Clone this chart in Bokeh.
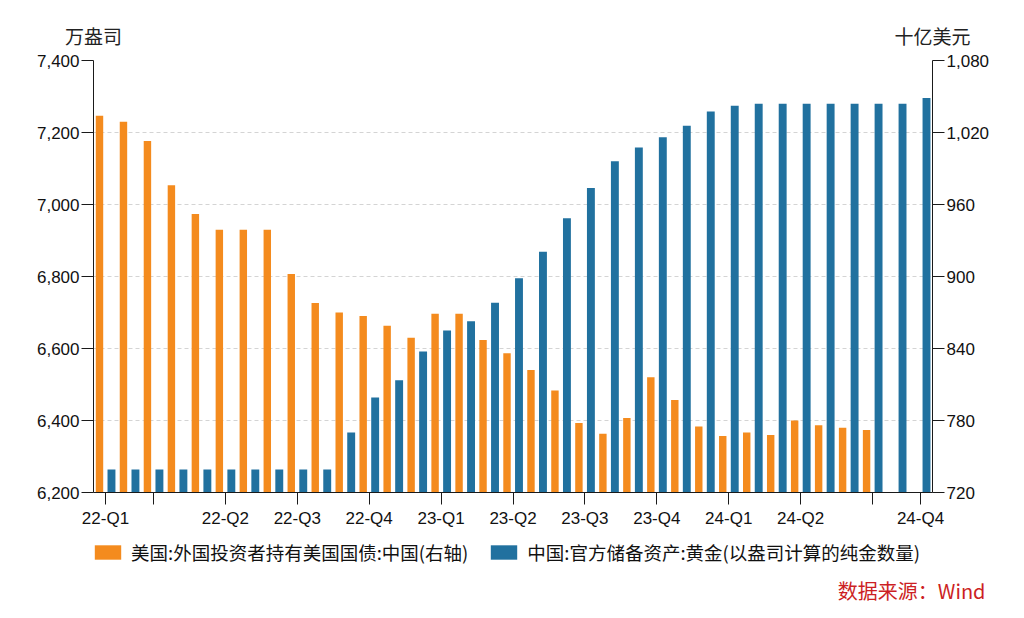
from bokeh.plotting import figure
from bokeh.layouts import column
from bokeh.models import (Range1d, LinearAxis, FixedTicker, NumeralTickFormatter,
                          Legend, LegendItem, ColumnDataSource)
from bokeh.core.properties import value
from bokeh.transform import dodge
from bokeh.embed import file_html
from bokeh.resources import INLINE

# ---------------- data ----------------
months = ["2022-01", "2022-02", "2022-03", "2022-04", "2022-05", "2022-06",
          "2022-07", "2022-08", "2022-09", "2022-10", "2022-11", "2022-12",
          "2023-01", "2023-02", "2023-03", "2023-04", "2023-05", "2023-06",
          "2023-07", "2023-08", "2023-09", "2023-10", "2023-11", "2023-12",
          "2024-01", "2024-02", "2024-03", "2024-04", "2024-05", "2024-06",
          "2024-07", "2024-08", "2024-09", "2024-10", "2024-11"]

# 美国:外国投资者持有美国国债:中国 (十亿美元, right axis)
us_treasury_china = [1034, 1029, 1013, 976, 952, 939, 939, 939, 902, 878,
                     870, 867, 859, 849, 869, 869, 847, 836, 822, 805,
                     778, 769, 782, 816, 797, 775, 767, 770, 768, 780,
                     776, 774, 772]

# 中国:官方储备资产:黄金 (万盎司, left axis)
china_gold = [6264, 6264, 6264, 6264, 6264, 6264, 6264, 6264, 6264, 6264,
              6367, 6464, 6512, 6592, 6650, 6676, 6727, 6795, 6869, 6962,
              7046, 7120, 7158, 7187, 7219, 7258, 7274, 7280, 7280, 7280,
              7280, 7280, 7280, 7280, 7296]

tick_positions = [0, 2, 5, 8, 11, 14, 17, 20, 23, 26, 29, 32, 34]
tick_labels = ["22-Q1", "", "22-Q2", "22-Q3", "22-Q4", "23-Q1", "23-Q2",
               "23-Q3", "23-Q4", "24-Q1", "24-Q2", "", "24-Q4"]

left_ticks = [6200, 6400, 6600, 6800, 7000, 7200, 7400]
right_ticks = [720, 780, 840, 900, 960, 1020, 1080]

left_unit = "万盎司"
right_unit = "十亿美元"
label_orange = "美国:外国投资者持有美国国债:中国(右轴)"
label_blue = "中国:官方储备资产:黄金(以盎司计算的纯金数量)"
source_note = "数据来源：Wind"

# ---------------- styles / layout ----------------
ORANGE = "#F48B1E"
BLUE = "#21719F"
AXIS = "#1a1a1a"
NUM_FONT = "Liberation Sans"
CJK_FONT = "Noto Sans CJK SC"
W = 1008
FL, FW, FH = 93, 839, 432          # frame left, width, height
TOP_H, BOT_H = 50, 80               # header / footer strips
MAIN_TOP, MAIN_BOT = 10, 40


def blank(height):
    f = figure(width=W, height=height, output_backend="svg",
               toolbar_location=None, x_range=Range1d(0, W),
               y_range=Range1d(0, height), x_axis_type=None,
               y_axis_type=None, min_border=0, frame_align=False)
    f.outline_line_color = None
    f.background_fill_color = "white"
    f.border_fill_color = "white"
    return f


# ---- header: unit labels above both value axes ----
head = blank(TOP_H)
head.text(x=[FL, FL + FW], y=[15, 15], text=[left_unit, right_unit],
          text_align="center", text_baseline="middle",
          text_font=value(CJK_FONT), text_font_size="19px",
          text_color="#222222")

# ---- main chart ----
src_o = ColumnDataSource(dict(x=list(range(len(us_treasury_china))),
                              v=us_treasury_china))
src_b = ColumnDataSource(dict(x=list(range(len(china_gold))), v=china_gold))

n = len(months)
p = figure(width=W, height=MAIN_TOP + FH + MAIN_BOT, output_backend="svg",
           toolbar_location=None,
           x_range=Range1d(-0.5, n - 0.5),
           y_range=Range1d(left_ticks[0], left_ticks[-1]),
           min_border_left=FL, min_border_right=W - FL - FW,
           min_border_top=MAIN_TOP, min_border_bottom=MAIN_BOT,
           frame_align=False)
p.outline_line_color = None
p.background_fill_color = "white"
p.border_fill_color = "white"

p.extra_y_ranges = {"r": Range1d(right_ticks[0], right_ticks[-1])}

p.vbar(x=dodge("x", -0.25, range=p.x_range), top="v",
       bottom=right_ticks[0], width=0.31, source=src_o,
       fill_color=ORANGE, line_color=None, y_range_name="r")
p.vbar(x=dodge("x", 0.25, range=p.x_range), top="v",
       bottom=left_ticks[0], width=0.33, source=src_b,
       fill_color=BLUE, line_color=None)

yl = p.yaxis[0]
yl.ticker = FixedTicker(ticks=left_ticks)
yl.formatter = NumeralTickFormatter(format="0,0")
ra = LinearAxis(y_range_name="r", ticker=FixedTicker(ticks=right_ticks),
                formatter=NumeralTickFormatter(format="0,0"))
p.add_layout(ra, "right")

for ax in (yl, ra):
    ax.major_tick_out = 12
    ax.major_tick_in = 0
    ax.minor_tick_line_color = None
    ax.major_label_standoff = 2
    ax.axis_line_color = AXIS
    ax.major_tick_line_color = AXIS
    ax.major_label_text_font = NUM_FONT
    ax.major_label_text_font_size = "17px"
    ax.major_label_text_color = "#111111"

xa = p.xaxis[0]
xa.ticker = FixedTicker(ticks=tick_positions)
xa.major_label_overrides = {pos: lab for pos, lab in zip(tick_positions, tick_labels)}
xa.major_tick_out = 12
xa.major_tick_in = 0
xa.minor_tick_line_color = None
xa.major_label_standoff = 4
xa.axis_line_color = AXIS
xa.major_tick_line_color = AXIS
xa.major_label_text_font = NUM_FONT
xa.major_label_text_font_size = "17px"
xa.major_label_text_color = "#111111"

p.xgrid.visible = False
p.ygrid[0].ticker = FixedTicker(ticks=left_ticks)
p.ygrid.grid_line_color = "#d4d4d4"
p.ygrid.grid_line_dash = "4 3"
p.ygrid.grid_line_width = 1

# ---- footer: legend + source note ----
foot = blank(BOT_H)
# key-only renderers: one point placed outside the visible strip
k_o = foot.vbar(x=[-100], top=[-100], bottom=[-110], width=1,
                fill_color=ORANGE, line_color=None)
k_b = foot.vbar(x=[-100], top=[-100], bottom=[-110], width=1,
                fill_color=BLUE, line_color=None)
legend = Legend(items=[LegendItem(label=label_orange, renderers=[k_o]),
                       LegendItem(label=label_blue, renderers=[k_b])],
                orientation="horizontal", location=(91, 47))
legend.glyph_width = 33
legend.glyph_height = 18
legend.label_standoff = 7
legend.spacing = 19
legend.padding = 4
legend.margin = 0
legend.border_line_color = None
legend.background_fill_alpha = 0
legend.label_text_font = CJK_FONT
legend.label_text_font_size = "18.5px"
legend.label_text_color = "#111111"
foot.add_layout(legend)

foot.text(x=[985], y=[22], text=[source_note], text_align="right",
          text_baseline="middle", text_font=value(CJK_FONT),
          text_font_size="20px", text_color="#CC1F24")

layout = column(head, p, foot, spacing=0)
open("out.html", "w").write(file_html(layout, INLINE))
